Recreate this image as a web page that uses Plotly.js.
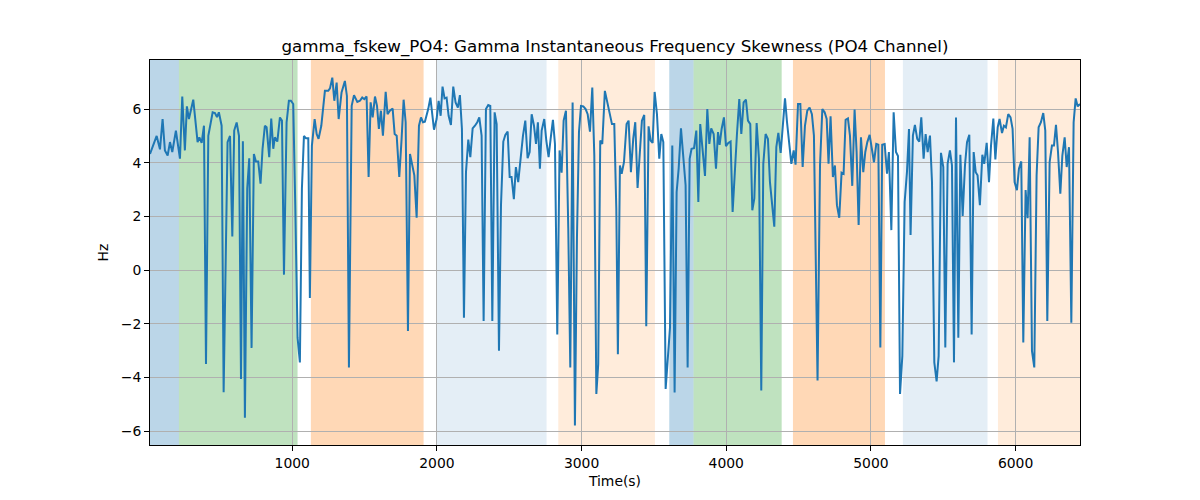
<!DOCTYPE html>
<html>
<head>
<meta charset="utf-8">
<script src="https://cdn.plot.ly/plotly-3.0.1.min.js"></script>
<style>html,body{margin:0;padding:0;background:#fff;}#chart{width:1200px;height:500px;}</style>
</head>
<body>
<div id="chart"></div>
<script>
// Time (s) of each sample
const timeS = [
17,40,63,86,104,120,139,155,171,196,224,240,258,272,286,316,346,358,374,390,404,420,450,466,480,493,512,526,553,570,586,599,616,632,646,659,673,
689,703,719,735,749,765,781,795,811,823,841,855,869,880,897,915,929,943,961,977,991,1007,1021,1037,1053,1067,1081,1095,1111,1122,1136,1155,1169,1182,1201,1226,1249,1261,1277,1291,1307,1321,
1341,1364,1378,1392,1411,1427,1450,1468,1484,1498,1514,1528,1542,1556,1572,1586,1599,1613,1627,1646,1659,1675,1694,1708,1722,1740,1756,1770,1784,1800,1814,1830,1844,1860,1876,1890,1904,1917,1940,1955,1980,
1998,2012,2026,2039,2053,2067,2081,2097,2113,2129,2145,2159,2173,2187,2201,2217,2231,2247,2263,2279,2293,2309,2323,2339,2355,2369,2383,2399,2413,2429,2443,2459,2473,2489,2503,2516,2532,2546,2562,2579,2595,2611,2627,2641,
2655,2671,2685,2698,2712,2724,2742,2756,2772,2786,2802,2816,2832,2848,2862,2876,2892,2908,2922,2938,2954,2968,2982,2996,3012,3028,3042,3058,3074,3088,3102,3115,3129,3143,3161,3178,3194,3210,3226,3240,3251,3265,3277,
3293,3311,3325,3341,3357,3371,3387,3403,3417,3433,3447,3463,3477,3491,3505,3521,3537,3551,3565,3581,3595,3611,3627,3643,3657,3671,3687,3703,3719,3733,3747,3760,3777,3793,3807,3820,3836,3853,3869,3883,3896,3913,3929,3943,
3954,3968,3984,3998,4014,4030,4044,4060,4074,4090,4104,4120,4136,4150,4166,4180,4194,4210,4226,4242,4256,4272,4288,4302,4316,4332,4346,4360,4376,4392,4406,4420,4436,4450,4466,4479,4496,4512,4528,4544,4560,4576,4592,
4606,4631,4648,4664,4680,4694,4707,4721,4737,4751,4765,4781,4797,4811,4825,4841,4855,4871,4887,4901,4915,4931,4947,4961,4975,4991,5007,5021,5037,5051,5065,5078,5095,5111,5124,5141,5157,5173,5187,5201,5217,5233,5249,5263,
5274,5290,5304,5320,5334,5348,5364,5378,5392,5408,5422,5438,5454,5468,5484,5500,5514,5530,5546,5560,5574,5588,5604,5618,5634,5650,5664,5680,5696,5710,5724,5737,5753,5770,5783,5800,5816,5830,5846,5860,5876,5889,5906,5919,
5933,5949,5965,5979,5993,6009,6023,6039,6053,6069,6083,6097,6113,6129,6145,6159,6175,6191,6205,6219,6235,6251,6265,6279,6293,6309,6323,6339,6353,6369,6385,6401,6415,6429,6445
];
// Gamma instantaneous frequency skewness (Hz)
const skewHz = [
4.33,4.64,5.0,4.5,5.63,4.46,4.27,4.77,4.4,5.2,4.15,6.47,4.46,6.1,5.63,6.35,4.77,4.95,4.74,5.38,-3.5,5.0,5.88,5.85,5.7,5.88,5.38,-4.55,4.77,5.0,1.25,5.2,5.5,5.0,-4.06,4.8,-5.5,
3.04,4.17,-2.9,4.33,4.05,4.05,3.22,4.52,5.38,5.32,4.21,5.65,4.52,4.95,4.79,5.69,5.57,-0.17,5.5,6.31,6.31,6.19,2.42,-2.52,-3.44,3.04,5.0,4.91,4.91,-1.04,4.64,5.63,5.07,4.89,5.38,6.68,6.68,6.77,7.17,6.31,6.99,5.63,
6.62,7.05,6.49,-3.63,6.12,6.52,6.27,6.31,6.43,6.37,6.47,3.47,6.25,5.69,6.47,6.12,5.26,5.94,5.01,6.64,5.81,5.94,6.02,5.07,5.01,3.47,4.89,6.35,5.51,-2.27,4.33,3.96,3.53,1.95,5.38,5.69,5.51,5.53,6.0,6.43,5.23,
5.63,6.31,5.75,6.84,6.4,6.43,5.75,5.41,6.84,6.25,6.06,6.52,5.26,-1.78,3.65,4.86,4.21,5.28,5.38,5.51,5.69,5.01,-1.9,6.0,6.15,6.12,-1.9,5.88,5.44,-3.01,2.42,4.79,5.04,5.16,3.47,3.47,2.64,3.84,3.28,4.33,5.01,5.57,4.17,4.4,
5.81,5.38,4.7,5.51,3.78,5.2,5.63,4.83,4.21,4.89,5.6,4.7,-2.4,4.46,3.63,5.57,5.94,1.56,-3.63,6.25,-5.79,1.19,5.14,6.12,6.1,6.0,5.81,5.16,6.8,4.27,-4.62,-3.51,4.83,4.7,6.68,6.25,5.81,5.44,5.44,2.3,-3.14,3.9,3.59,
4.02,5.44,5.57,3.65,4.89,5.51,3.06,4.4,5.57,5.78,-2.09,5.36,4.83,4.74,6.64,5.81,4.15,5.07,4.77,-4.43,-3.2,-2.15,4.64,-4.56,2.91,3.78,5.28,4.33,3.16,-3.63,4.15,4.52,4.54,5.2,2.54,5.44,4.52,3.51,6.0,4.7,5.28,5.07,3.78,5.14,
4.67,5.26,5.69,4.62,4.74,4.79,2.17,4.02,5.07,6.37,5.07,6.25,6.35,5.57,5.44,2.23,2.67,5.48,4.15,-4.49,3.96,5.07,4.89,3.28,2.54,1.62,4.58,5.11,4.37,5.51,6.4,5.51,4.77,3.96,4.46,3.93,6.19,6.19,3.84,5.38,5.94,6.06,5.81,
5.01,-4.12,3.9,6.0,5.88,5.63,3.96,5.73,3.47,3.9,2.42,1.95,3.63,3.59,5.6,5.65,5.01,3.14,5.98,4.4,1.68,4.95,3.65,4.4,4.77,5.04,4.52,4.02,4.7,4.67,-2.89,4.67,4.7,3.59,4.4,1.49,5.88,4.4,4.25,-4.62,-3.2,2.54,3.65,5.26,
1.31,5.01,5.41,4.89,4.79,5.69,4.15,5.07,4.4,5.01,3.28,-3.44,-4.15,-3.2,4.37,3.84,-2.89,3.96,4.46,3.9,-3.44,5.69,-2.52,4.3,2.02,3.9,4.77,5.04,-2.4,4.4,3.65,3.53,2.42,4.3,3.96,4.74,3.28,4.64,5.65,4.12,5.32,5.63,5.11,5.38,
5.32,5.81,5.69,5.26,3.28,2.98,3.78,4.05,-2.7,2.98,1.93,4.95,-3.01,-3.63,3.53,5.32,5.51,5.85,5.2,-1.9,4.02,4.64,4.64,5.41,4.4,2.85,4.27,4.95,3.84,4.58,-1.96,5.51,6.4,6.1,6.19
];
// Shaded segments
const spanStart = [17, 217, 1129, 1998, 2839, 3606, 3774, 4461, 5221, 5878];
const spanEnd   = [217, 1037, 1908, 2758, 3507, 3774, 4383, 5097, 5806, 6445];
const spanColor = [
  'rgba(31,119,180,0.3)', 'rgba(44,160,44,0.3)', 'rgba(255,127,14,0.3)', 'rgba(31,119,180,0.12)', 'rgba(255,127,14,0.15)',
  'rgba(31,119,180,0.3)', 'rgba(44,160,44,0.3)', 'rgba(255,127,14,0.3)', 'rgba(31,119,180,0.12)', 'rgba(255,127,14,0.15)'
];
const xTicks = [1000, 2000, 3000, 4000, 5000, 6000];
const yTicks = [-6, -4, -2, 0, 2, 4, 6];

const shapes = spanStart.map((s, i) => ({
  type: 'rect', xref: 'x', yref: 'paper', x0: s, x1: spanEnd[i], y0: 0, y1: 1,
  fillcolor: spanColor[i], line: {width: 0}, layer: 'below'
}));

const font = {family: 'DejaVu Sans, sans-serif', color: '#000'};
const trace = {
  x: timeS, y: skewHz, type: 'scatter', mode: 'lines',
  line: {color: '#1f77b4', width: 2}, hoverinfo: 'skip'
};
const layout = {
  width: 1200, height: 500,
  margin: {l: 150, r: 120, t: 60, b: 55},
  paper_bgcolor: '#fff', plot_bgcolor: 'rgba(0,0,0,0)',
  showlegend: false,
  font: Object.assign({size: 13.9}, font),
  title: {text: 'gamma_fskew_PO4: Gamma Instantaneous Frequency Skewness (PO4 Channel)',
    font: Object.assign({size: 16.7}, font), x: 0.5125, xanchor: 'center', xref: 'container', y: 0.908, yanchor: 'middle', yref: 'container'},
  xaxis: {
    range: [17, 6445], tickvals: xTicks, ticks: 'outside', ticklen: 4.9, tickwidth: 1, tickcolor: '#000',
    showline: true, mirror: true, linecolor: '#000', linewidth: 1,
    showgrid: true, gridcolor: '#b0b0b0', gridwidth: 1, zeroline: false,
    title: {text: 'Time(s)', font: Object.assign({size: 13.9}, font), standoff: 6},
    tickfont: Object.assign({size: 13.9}, font)
  },
  yaxis: {
    range: [-6.52, 7.83], tickvals: yTicks, ticks: 'outside', ticklen: 4.9, tickwidth: 1, tickcolor: '#000',
    showline: true, mirror: true, linecolor: '#000', linewidth: 1,
    showgrid: true, gridcolor: '#b0b0b0', gridwidth: 1, zeroline: false,
    title: {text: 'Hz', font: Object.assign({size: 13.9}, font), standoff: 8},
    tickfont: Object.assign({size: 13.9}, font)
  },
  shapes: shapes
};
Plotly.newPlot('chart', [trace], layout, {displayModeBar: false, staticPlot: true});
</script>
</body>
</html>
